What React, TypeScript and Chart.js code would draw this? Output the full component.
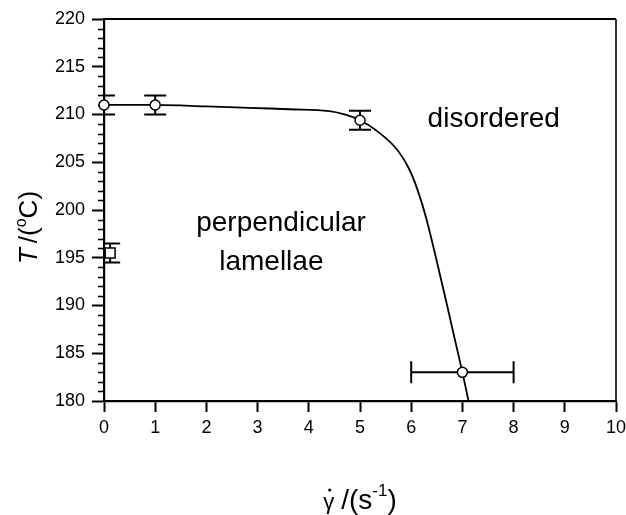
import { useEffect, useRef } from "react";
import { Chart, registerables } from "chart.js";

Chart.register(...registerables);

// Shear rate (s^-1) axis and temperature (°C) axis ranges
const rateTicks = [0, 1, 2, 3, 4, 5, 6, 7, 8, 9, 10];
const tempTicks = [180, 185, 190, 195, 200, 205, 210, 215, 220];

// Measured transition points (circles) with error bars
const ptRate = [0, 1, 5, 7];
const ptTemp = [211, 211, 209.4, 183];
const ptTempErr = [1, 1, 1, 0];
const ptRateErr = [0, 0, 0, 1];

// Quiescent reference point (square)
const sqRate = [0.12];
const sqTemp = [195.5];
const sqTempErr = [1];

// Phase boundary guide line
const boundaryRate = [0, 1, 2, 2.84, 3.62, 4.4, 4.73, 5.0, 5.3, 5.68, 5.94, 6.13, 6.3, 6.65, 6.85, 7.0, 7.12];
const boundaryTemp = [211, 211, 210.85, 210.7, 210.55, 210.35, 209.95, 209.4, 208.4, 206.6, 204.5, 202.0, 199.0, 191.2, 186.5, 183.0, 180.0];

// Region labels: [text, rate, temperature at baseline]
const regionLabels: [string, number, number][] = [
  ["disordered", 6.32, 208.7],
  ["perpendicular", 1.8, 197.8],
  ["lamellae", 2.25, 193.7],
];

const FONT = "'Liberation Sans', Arial, Helvetica, sans-serif";

const frame = {
  id: "frame",
  beforeDatasetsDraw(chart: any) {
    const { ctx, chartArea: a, scales } = chart;
    const x = scales.x;
    const y = scales.y;
    ctx.save();
    // minor ticks on the temperature axis
    ctx.strokeStyle = "#000";
    ctx.lineWidth = 1.6;
    const lo = tempTicks[0];
    const hi = tempTicks[tempTicks.length - 1];
    for (let v = lo; v <= hi; v++) {
      if (v % 5 === 0) continue;
      const py = Math.round(y.getPixelForValue(v)) + 0.5;
      ctx.beginPath();
      ctx.moveTo(a.left - 6, py);
      ctx.lineTo(a.left + 1, py);
      ctx.stroke();
    }
    // top and right frame
    ctx.lineWidth = 2;
    ctx.beginPath();
    ctx.moveTo(a.left, a.top);
    ctx.lineTo(a.right, a.top);
    ctx.stroke();
    ctx.lineWidth = 1.6;
    ctx.beginPath();
    ctx.moveTo(a.right, a.top);
    ctx.lineTo(a.right, a.bottom);
    ctx.stroke();

    // error bars, clipped to the plot area
    ctx.beginPath();
    ctx.rect(a.left, a.top, a.right - a.left, a.bottom - a.top);
    ctx.clip();
    ctx.lineWidth = 2;
    const cap = 11;
    const vbar = (px: number, t0: number, t1: number, half: number) => {
      const y0 = y.getPixelForValue(t0);
      const y1 = y.getPixelForValue(t1);
      ctx.beginPath();
      ctx.moveTo(px, y0);
      ctx.lineTo(px, y1);
      ctx.moveTo(px - half, y0);
      ctx.lineTo(px + half, y0);
      ctx.moveTo(px - half, y1);
      ctx.lineTo(px + half, y1);
      ctx.stroke();
    };
    ptRate.forEach((r, i) => {
      const px = x.getPixelForValue(r);
      const py = y.getPixelForValue(ptTemp[i]);
      if (ptTempErr[i] > 0) vbar(px, ptTemp[i] - ptTempErr[i], ptTemp[i] + ptTempErr[i], cap);
      if (ptRateErr[i] > 0) {
        const x0 = x.getPixelForValue(r - ptRateErr[i]);
        const x1 = x.getPixelForValue(r + ptRateErr[i]);
        ctx.beginPath();
        ctx.moveTo(x0, py);
        ctx.lineTo(x1, py);
        ctx.moveTo(x0, py - cap);
        ctx.lineTo(x0, py + cap);
        ctx.moveTo(x1, py - cap);
        ctx.lineTo(x1, py + cap);
        ctx.stroke();
      }
    });
    sqRate.forEach((r, i) => {
      const px = x.getPixelForValue(r);
      vbar(px, sqTemp[i] - sqTempErr[i], sqTemp[i] + sqTempErr[i], 10);
    });
    ctx.restore();
  },
  afterDraw(chart: any) {
    const { ctx, chartArea: a, scales } = chart;
    const x = scales.x;
    const y = scales.y;
    ctx.save();
    ctx.fillStyle = "#000";
    ctx.textBaseline = "alphabetic";

    // region labels
    ctx.font = `28px ${FONT}`;
    ctx.textAlign = "left";
    regionLabels.forEach(([txt, r, t]) => {
      ctx.fillText(txt, x.getPixelForValue(r), y.getPixelForValue(t));
    });

    // x title: γ̇ /(s⁻¹)
    const big = `28px ${FONT}`;
    const sup = `17px ${FONT}`;
    const gam = `22px ${FONT}`;
    ctx.font = gam;
    const wg = ctx.measureText("γ").width;
    ctx.font = big;
    const w1 = ctx.measureText("/(s").width;
    const w3 = ctx.measureText(")").width;
    ctx.font = sup;
    const w2 = ctx.measureText("-1").width;
    const gap = 7;
    const total = wg + gap + w1 + w2 + w3;
    let cx = (a.left + a.right) / 2 - total / 2;
    const base = 509;
    ctx.font = gam;
    ctx.fillText("γ", cx, base);
    ctx.beginPath();
    ctx.arc(cx + wg / 2 + 1, base - 19, 1.6, 0, Math.PI * 2);
    ctx.fill();
    cx += wg + gap;
    ctx.font = big;
    ctx.fillText("/(s", cx, base);
    cx += w1;
    ctx.font = sup;
    ctx.fillText("-1", cx, base - 13);
    cx += w2;
    ctx.font = big;
    ctx.fillText(")", cx, base);

    // y title: T /(°C)
    ctx.save();
    ctx.translate(37, 227.5);
    ctx.rotate(-Math.PI / 2);
    const yb = `26px ${FONT}`;
    const yi = `italic 26px ${FONT}`;
    const ys = `16px ${FONT}`;
    ctx.font = yi;
    const tT = ctx.measureText("T").width;
    ctx.font = yb;
    const tA = ctx.measureText("/(").width;
    const tC = ctx.measureText("C)").width;
    ctx.font = ys;
    const tO = ctx.measureText("o").width;
    const g2 = 5;
    const tot = tT + g2 + tA + tO + tC;
    let lx = -tot / 2;
    ctx.font = yi;
    ctx.fillText("T", lx, 0);
    lx += tT + g2;
    ctx.font = yb;
    ctx.fillText("/(", lx, 0);
    lx += tA;
    ctx.font = ys;
    ctx.fillText("o", lx, -11);
    lx += tO;
    ctx.font = yb;
    ctx.fillText("C)", lx, 0);
    ctx.restore();

    ctx.restore();
  },
};

export default function App() {
  const ref = useRef<HTMLCanvasElement | null>(null);

  useEffect(() => {
    if (!ref.current) return;
    const chart = new Chart(ref.current, {
      type: "scatter",
      data: {
        datasets: [
          {
            label: "transition",
            data: ptRate.map((r, i) => ({ x: r, y: ptTemp[i] })),
            pointStyle: "circle",
            pointRadius: 5,
            pointBackgroundColor: "#fff",
            pointBorderColor: "#000",
            pointBorderWidth: 1.5,
            showLine: false,
            clip: false as any,
            order: 0,
          },
          {
            label: "quiescent",
            data: sqRate.map((r, i) => ({ x: r, y: sqTemp[i] })),
            pointStyle: "rect",
            pointRadius: 7,
            pointBackgroundColor: "#fff",
            pointBorderColor: "#000",
            pointBorderWidth: 1.5,
            showLine: false,
            clip: false as any,
            order: 1,
          },
          {
            label: "boundary",
            data: boundaryRate.map((r, i) => ({ x: r, y: boundaryTemp[i] })),
            showLine: true,
            borderColor: "#000",
            borderWidth: 1.8,
            pointRadius: 0,
            tension: 0.4,
            cubicInterpolationMode: "default",
            fill: false,
            order: 2,
          } as any,
        ],
      },
      options: {
        responsive: false,
        animation: false,
        events: [],
        layout: { autoPadding: false, padding: { left: 0, top: 19, right: 10, bottom: 0 } } as any,
        plugins: { legend: { display: false }, tooltip: { enabled: false } },
        scales: {
          x: {
            type: "linear",
            min: rateTicks[0],
            max: rateTicks[rateTicks.length - 1],
            afterFit: (s: any) => {
              s.height = 114;
              s.paddingLeft = 0;
              s.paddingRight = 0;
            },
            border: { display: true, color: "#000", width: 2.2 },
            grid: { display: true, drawOnChartArea: false, drawTicks: true, tickLength: 11, tickColor: "#000", tickWidth: 2 },
            ticks: {
              stepSize: 1,
              color: "#000",
              padding: 5,
              font: { family: FONT, size: 18 },
              maxRotation: 0,
              callback: (v: any) => String(v),
            },
          },
          y: {
            type: "linear",
            min: tempTicks[0],
            max: tempTicks[tempTicks.length - 1],
            afterFit: (s: any) => {
              s.width = 104;
              s.paddingTop = 0;
              s.paddingBottom = 0;
            },
            border: { display: true, color: "#000", width: 2.2 },
            grid: { display: true, drawOnChartArea: false, drawTicks: true, tickLength: 12, tickColor: "#000", tickWidth: 2 },
            ticks: {
              stepSize: 5,
              color: "#000",
              padding: 7,
              font: { family: FONT, size: 18 },
              callback: (v: any) => String(v),
            },
          },
        },
      },
      plugins: [frame],
    });
    return () => chart.destroy();
  }, []);

  return (
    <div style={{ position: "fixed", left: 0, top: 0, width: 626, height: 515, background: "#fff" }}>
      <canvas ref={ref} width={626} height={515} style={{ display: "block" }} />
    </div>
  );
}
